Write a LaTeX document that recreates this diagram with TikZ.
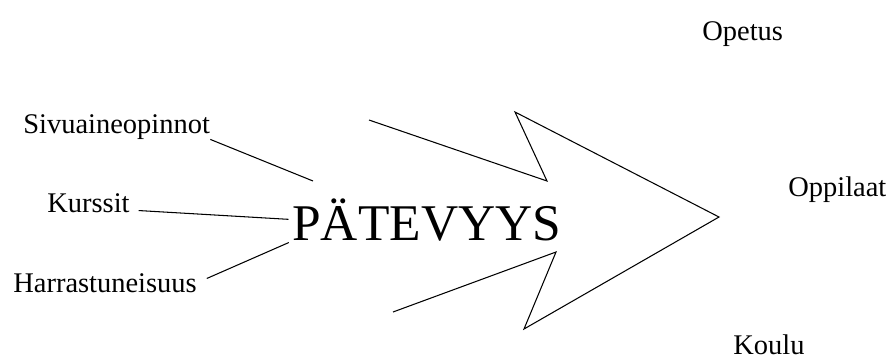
\documentclass[tikz,border=0pt]{standalone}
\usepackage{fontspec}
\setmainfont{Liberation Serif}
\usepackage{tikz}

\begin{document}
\begin{tikzpicture}[lbl/.style={inner sep=0pt, anchor=base west, font=\fontsize{16.2}{19}\selectfont},
	big/.style={inner sep=0pt, anchor=base west, font=\fontsize{29.3}{34}\selectfont},
	ln/.style={line width=0.6pt}]
	\useasboundingbox (0, 0) rectangle (17.84, 7.26);
	\node (pat) at (5.84, 2.46) [big] {PÄTEVYYS};
	\node (siv) at (0.46, 4.60) [lbl] {Sivuaineopinnot};
	\node (kur) at (0.94, 3.02) [lbl] {Kurssit};
	\node (har) at (0.26, 1.42) [lbl] {Harrastuneisuus};
	\node (ope) at (14.04, 6.46) [lbl] {Opetus};
	\node (opp) at (15.76, 3.34) [lbl] {Oppilaat};
	\node (kou) at (14.66, 0.18) [lbl] {Koulu};
	\coordinate (sivend) at (6.26, 3.64);
	\draw [ln] (siv.south east) -- (sivend);
	\draw [ln, shorten <=5pt, shorten >=2pt] (kur.-10) -- (pat.west);
	\draw [ln, shorten <=6pt, shorten >=2pt] (har.east) -- (pat.south west);
	% big open arrow
	\draw [ln, line join=miter] (7.38, 4.86) -- (10.94, 3.64) -- (10.30, 5.02) -- (14.38, 2.92)
		-- (10.48, 0.68) -- (11.12, 2.22) -- (7.86, 1.02);
\end{tikzpicture}
\end{document}
